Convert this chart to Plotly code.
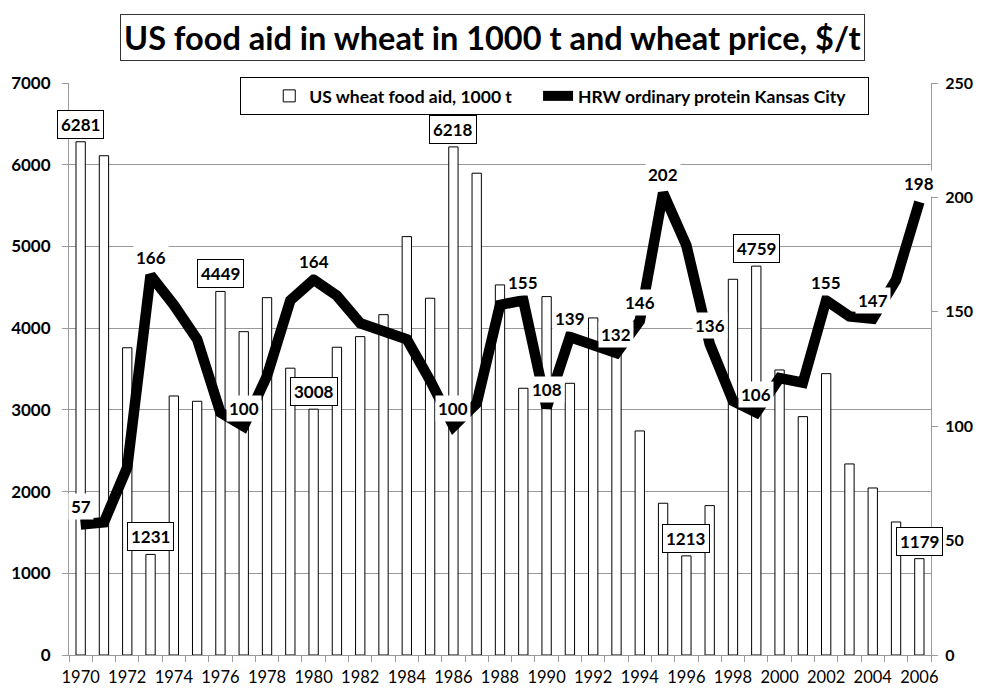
import plotly.graph_objects as go

years = list(range(1970, 2007))
aid = [6281, 6110, 3760, 1231, 3170, 3105, 4449, 3957, 4373, 3510,
       3008, 3766, 3896, 4165, 5120, 4366, 6218, 5896, 4529, 3264,
       4386, 3325, 4125, 3790, 2742, 1857, 1213, 1828, 4598, 4759,
       3488, 2917, 3443, 2338, 2044, 1628, 1179]
price = [57, 58, 82, 166, 153, 138, 106, 100, 122, 155,
         164, 157, 145, 141, 138, 120, 100, 110, 153, 155,
         108, 139, 136, 132, 146, 202, 179, 136, 111, 106,
         121, 119, 155, 148, 147, 164, 198]

aid_label_years = [1970, 1973, 1976, 1980, 1986, 1996, 1999, 2006]
price_label_years = [1970, 1973, 1977, 1980, 1986, 1989, 1990, 1991, 1993,
                     1994, 1995, 1997, 1999, 2002, 2004, 2006]

title_text = "US food aid in wheat in 1000 t and wheat price, $/t"
aid_name = "US wheat food aid, 1000 t"
price_name = "HRW ordinary protein Kansas City"

FONT = "Lato"
GRID = "#9a9a9a"
PAD = "&nbsp;"

fig = go.Figure()
fig.add_trace(go.Bar(
    x=years, y=aid, name=aid_name + PAD * 5, width=0.4,
    marker=dict(color="white", line=dict(color="black", width=1)),
    yaxis="y"))
fig.add_trace(go.Scatter(
    x=years, y=price, name=price_name + PAD * 4, mode="lines",
    line=dict(color="black", width=10.5), yaxis="y2"))

annotations = []
for yr in aid_label_years:
    v = aid[years.index(yr)]
    annotations.append(dict(
        x=yr, y=v, xref="x", yref="y", text=str(v), showarrow=False,
        yanchor="bottom", yshift=3, bgcolor="white", bordercolor="black",
        borderwidth=1, borderpad=3,
        font=dict(family=FONT, size=17, color="black", weight="bold")))
for yr in price_label_years:
    v = price[years.index(yr)]
    annotations.append(dict(
        x=yr, y=v, xref="x", yref="y2", text=str(v), showarrow=False,
        yanchor="middle", yshift=18, bgcolor="white", borderpad=2,
        font=dict(family=FONT, size=17, color="black", weight="bold")))
annotations.append(dict(
    x=0.491, y=1.0787, xref="paper", yref="paper", text=title_text,
    showarrow=False, xanchor="center", yanchor="middle", bordercolor="#333",
    borderwidth=1, borderpad=3, bgcolor="white",
    font=dict(family=FONT, size=32.5, color="black", weight="bold")))

# the page body adds an 8 px margin; size the figure so the plot lands in place
fig.update_layout(
    width=973, height=680,
    margin=dict(l=61, r=50, t=75, b=33, autoexpand=False),
    paper_bgcolor="white", plot_bgcolor="white",
    font=dict(family=FONT, color="black"),
    showlegend=True,
    legend=dict(orientation="h", x=(240 - 69) / 862, xanchor="left", y=1.0105, yanchor="top",
                bgcolor="white", bordercolor="black", borderwidth=1,
                font=dict(family=FONT, size=17.5, color="black", weight="bold"),
                title=dict(text="&nbsp;" * 5, side="left",
                           font=dict(family=FONT, size=15)),
                itemwidth=30, traceorder="normal"),
    xaxis=dict(range=[1969.5, 2006.5], tickmode="linear", tick0=1970, dtick=2,
               ticks="", showgrid=False, showline=True, linecolor=GRID,
               ticklabelstandoff=7,
               tickfont=dict(family=FONT, size=16.5, color="black"),
               minor=dict(ticks="outside", tick0=1969.5, dtick=1, ticklen=6,
                          tickcolor=GRID, showgrid=False),
               zeroline=False),
    yaxis=dict(range=[0, 7000], dtick=1000, showgrid=True, gridcolor=GRID,
               gridwidth=1, showline=True, linecolor=GRID, ticks="outside",
               ticklen=6, tickcolor=GRID, zeroline=False, ticklabelstandoff=8,
               tickfont=dict(family=FONT, size=17, color="black", weight="bold")),
    yaxis2=dict(range=[0, 250], dtick=50, overlaying="y", side="right",
                showgrid=False, showline=True, linecolor=GRID, ticks="outside",
                ticklen=6, tickcolor=GRID, zeroline=False, ticklabelstandoff=4,
                tickfont=dict(family=FONT, size=16, color="black", weight="bold")),
    annotations=annotations,
)

fig.write_html("out.html")
